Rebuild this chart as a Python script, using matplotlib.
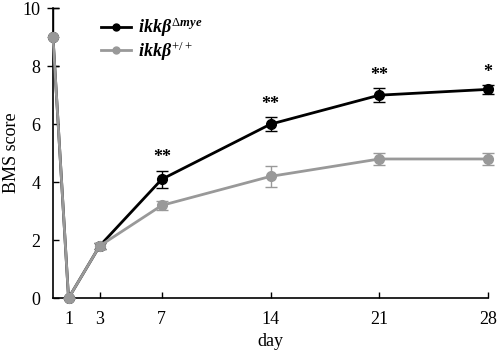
import matplotlib
matplotlib.use('Agg')
import matplotlib.pyplot as plt
from matplotlib.lines import Line2D

plt.rcParams['font.family'] = 'Liberation Serif'
plt.rcParams['mathtext.fontset'] = 'custom'
plt.rcParams['mathtext.rm'] = 'Liberation Serif'
plt.rcParams['mathtext.it'] = 'Liberation Serif:italic:bold'

days = [0, 1, 3, 7, 14, 21, 28]
tick_days = [1, 3, 7, 14, 21, 28]

ko_mean = [9.0, 0.0, 1.8, 4.1, 6.0, 7.0, 7.2]
ko_err = [1.0, 0.0, 0.1, 0.3, 0.25, 0.25, 0.15]
wt_mean = [9.0, 0.0, 1.8, 3.2, 4.2, 4.8, 4.8]
wt_err = [0.0, 0.0, 0.1, 0.15, 0.35, 0.2, 0.2]
stars = ['', '', '', '**', '**', '**', '*']

KO_COLOR = 'black'
WT_COLOR = '#999999'

fig = plt.figure(figsize=(5, 3.55), dpi=100)
ax = fig.add_axes([0.106, 0.16, 0.87, 0.817])

ax.errorbar(days, ko_mean, yerr=ko_err, color=KO_COLOR, lw=2, marker='o', ms=7,
            capsize=4, elinewidth=1, capthick=1, zorder=2, clip_on=False)
ax.errorbar(days, wt_mean, yerr=wt_err, color=WT_COLOR, lw=2, marker='o', ms=7,
            capsize=4, elinewidth=1, capthick=1, zorder=3, clip_on=False)

for d, m, e, s in zip(days, ko_mean, ko_err, stars):
    if s:
        ax.text(d, m + e + 0.15, s, ha='center', va='bottom', fontsize=13, fontweight='bold')

ax.set_xlim(0, 28)
ax.set_ylim(0, 10)
ax.set_xticks(tick_days)
ax.set_yticks(range(0, 11, 2))
ax.tick_params(direction='in', labelsize=13, length=4, width=1, pad=9)
for sp in ['top', 'right']:
    ax.spines[sp].set_visible(False)
for sp in ['left', 'bottom']:
    ax.spines[sp].set_linewidth(1.2)

ax.set_xlabel('day', fontsize=13, labelpad=4)
ax.set_ylabel('BMS score', fontsize=13)
ax.yaxis.set_label_coords(-0.076, 0.5)

handles = [Line2D([], [], color=KO_COLOR, lw=2, marker='o', ms=5),
           Line2D([], [], color=WT_COLOR, lw=2, marker='o', ms=5)]
labels = [r'$ikk\beta^{\Delta mye}$', r'$ikk\beta^{+/+}$']
ax.legend(handles, labels, loc='upper left', bbox_to_anchor=(0.072, 1.03), frameon=False,
          fontsize=13, handlelength=1.7, handletextpad=0.4, labelspacing=0.0)

fig.savefig('out.png', dpi=100)
